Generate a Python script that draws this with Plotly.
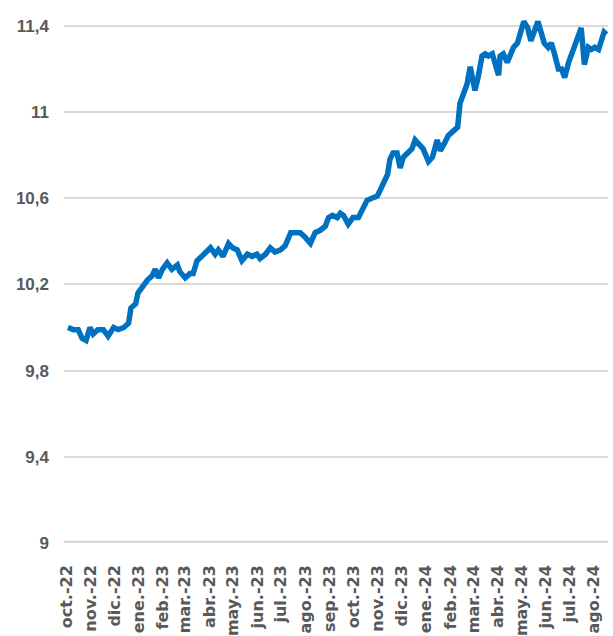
import plotly.graph_objects as go
import pandas as pd

# ---- data ----
dates = [
    "2022-10-03", "2022-10-10", "2022-10-16", "2022-10-21", "2022-10-26", "2022-10-31",
    "2022-11-04", "2022-11-10", "2022-11-17", "2022-11-23", "2022-11-30",
    "2022-12-06", "2022-12-13", "2022-12-19", "2022-12-22", "2022-12-28", "2022-12-31",
    "2023-01-07", "2023-01-12", "2023-01-18", "2023-01-22", "2023-01-26", "2023-01-31",
    "2023-02-06", "2023-02-12", "2023-02-19", "2023-02-22",
    "2023-03-01", "2023-03-07", "2023-03-11", "2023-03-16", "2023-03-22", "2023-03-29",
    "2023-04-02", "2023-04-08", "2023-04-12", "2023-04-18", "2023-04-25", "2023-04-30",
    "2023-05-06", "2023-05-12", "2023-05-19", "2023-05-25", "2023-05-31",
    "2023-06-04", "2023-06-11", "2023-06-17", "2023-06-23", "2023-06-30",
    "2023-07-06", "2023-07-13", "2023-07-19", "2023-07-25", "2023-07-31",
    "2023-08-07", "2023-08-13", "2023-08-19", "2023-08-26", "2023-08-30",
    "2023-09-04", "2023-09-10", "2023-09-14", "2023-09-18", "2023-09-24", "2023-09-30",
    "2023-10-07", "2023-10-12", "2023-10-18", "2023-10-24", "2023-10-31",
    "2023-11-04", "2023-11-08", "2023-11-13", "2023-11-16", "2023-11-20", "2023-11-25", "2023-11-29",
    "2023-12-03", "2023-12-09", "2023-12-14", "2023-12-18", "2023-12-22", "2023-12-28",
    "2024-01-04", "2024-01-09", "2024-01-15", "2024-01-19", "2024-01-25", "2024-01-29",
    "2024-02-04", "2024-02-10", "2024-02-13", "2024-02-17", "2024-02-22", "2024-02-26", "2024-02-28",
    "2024-03-03", "2024-03-07", "2024-03-12", "2024-03-16", "2024-03-20", "2024-03-25", "2024-03-29",
    "2024-04-02", "2024-04-04", "2024-04-08", "2024-04-13", "2024-04-17", "2024-04-21", "2024-04-26", "2024-04-30",
    "2024-05-04", "2024-05-09", "2024-05-13", "2024-05-17", "2024-05-22", "2024-05-26", "2024-05-30",
    "2024-06-04", "2024-06-08", "2024-06-12", "2024-06-17", "2024-06-21", "2024-06-25", "2024-06-30",
    "2024-07-03", "2024-07-07", "2024-07-12", "2024-07-16", "2024-07-20", "2024-07-25", "2024-07-29",
    "2024-08-02", "2024-08-07", "2024-08-11", "2024-08-14", "2024-08-17",
]
values = [
    10.00, 9.99, 9.99, 9.95, 9.94, 10.00,
    9.97, 9.99, 9.99, 9.96, 10.00,
    9.99, 10.00, 10.02, 10.09, 10.11, 10.16,
    10.20, 10.22, 10.24, 10.27, 10.23, 10.27,
    10.30, 10.27, 10.29, 10.26,
    10.23, 10.25, 10.25, 10.31, 10.33, 10.36,
    10.37, 10.34, 10.36, 10.33, 10.39, 10.37,
    10.36, 10.31, 10.34, 10.33, 10.34,
    10.32, 10.34, 10.37, 10.35, 10.36,
    10.38, 10.44, 10.44, 10.44, 10.42,
    10.39, 10.44, 10.45, 10.47, 10.51,
    10.52, 10.51, 10.53, 10.52, 10.48, 10.51,
    10.51, 10.55, 10.59, 10.60, 10.61,
    10.64, 10.67, 10.71, 10.78, 10.81, 10.81, 10.74,
    10.79, 10.81, 10.83, 10.87, 10.85, 10.83,
    10.77, 10.79, 10.87, 10.82, 10.86, 10.89,
    10.91, 10.93, 11.04, 11.09, 11.13, 11.21, 11.16,
    11.10, 11.16, 11.26, 11.27, 11.26, 11.27, 11.22,
    11.17, 11.26, 11.27, 11.23, 11.26, 11.30, 11.32, 11.38,
    11.42, 11.39, 11.33, 11.37, 11.42, 11.37, 11.32,
    11.30, 11.32, 11.27, 11.20, 11.20, 11.16, 11.23,
    11.27, 11.30, 11.35, 11.39, 11.22, 11.30, 11.29,
    11.30, 11.29, 11.35, 11.37, 11.36,
]

month_labels = [
    "oct.-22", "nov.-22", "dic.-22", "ene.-23", "feb.-23", "mar.-23", "abr.-23",
    "may.-23", "jun.-23", "jul.-23", "ago.-23", "sep.-23", "oct.-23", "nov.-23",
    "dic.-23", "ene.-24", "feb.-24", "mar.-24", "abr.-24", "may.-24", "jun.-24",
    "jul.-24", "ago.-24",
]
y_ticks = [9.0, 9.4, 9.8, 10.2, 10.6, 11.0, 11.4]
y_tick_labels = ["9", "9,4", "9,8", "10,2", "10,6", "11", "11,4"]

month_starts = pd.date_range("2022-10-01", periods=len(month_labels), freq="MS")

fig = go.Figure()
fig.add_trace(go.Scatter(
    x=pd.to_datetime(dates), y=values, mode="lines",
    line=dict(color="#0070C0", width=5.5),
    hoverinfo="skip", showlegend=False,
))

fig.add_shape(type="line", xref="paper", x0=0, x1=1, yref="y", y0=9, y1=9,
              line=dict(color="#D9D9D9", width=5), layer="below")

fig.update_layout(
    width=613, height=636,
    margin=dict(l=64, r=5, t=15, b=93, autoexpand=False),
    paper_bgcolor="white", plot_bgcolor="white",
    showlegend=False,
)
fig.update_xaxes(
    range=["2022-09-28", "2024-08-19"],
    tickvals=month_starts, ticktext=month_labels,
    tickangle=-90, ticks="", showgrid=False, zeroline=False, showline=False,
    automargin=False,
    tickfont=dict(family="DejaVu Sans", size=16, color="#595959", weight="bold"),
    ticklabelstandoff=18,
)
fig.update_yaxes(
    range=[9, 11.45],
    tickvals=y_ticks, ticktext=y_tick_labels,
    ticks="", showgrid=True, gridcolor="#D9D9D9", gridwidth=1.5,
    zeroline=False, showline=False, automargin=False,
    tickfont=dict(family="Liberation Sans", size=17, color="#595959", weight="bold"),
    ticklabelstandoff=14,
)

fig.write_html("out.html", config={"displayModeBar": False},
               post_script="document.body.style.margin='0';")
